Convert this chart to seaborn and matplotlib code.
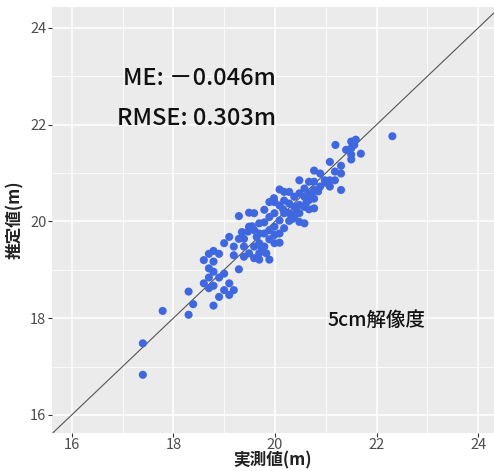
import matplotlib
matplotlib.use("Agg")
import matplotlib.pyplot as plt
import seaborn as sns
import pandas as pd
from matplotlib.ticker import MultipleLocator

# observed (実測値) and estimated (推定値) heights, m
measured = [17.40, 17.40, 17.79, 18.30, 18.30, 18.39, 18.79, 18.60, 18.60, 18.70,
            18.70, 18.70, 18.70, 18.79, 18.79, 18.79, 18.79, 18.90, 18.90, 18.90,
            19.00, 19.00, 19.10, 19.10, 19.19, 19.00, 19.10, 19.19, 19.19, 19.29,
            19.29, 19.29, 19.39, 19.39, 19.39, 19.49, 19.49, 19.49, 19.59, 19.59,
            19.59, 19.59, 19.69, 19.69, 19.69, 19.69, 19.69, 19.79, 19.79, 19.79,
            19.79, 19.89, 19.89, 19.89, 19.89, 19.89, 19.99, 19.99, 19.99, 19.99,
            19.99, 20.09, 20.09, 20.09, 20.09, 20.09, 20.18, 20.18, 20.18, 20.18,
            20.28, 20.28, 20.28, 20.28, 20.38, 20.38, 20.38, 20.48, 20.48, 20.48,
            20.48, 20.48, 20.58, 20.58, 20.58, 20.58, 20.67, 20.67, 20.67, 20.67,
            20.77, 20.77, 20.77, 20.77, 20.77, 20.89, 20.89, 20.98, 21.08, 21.08,
            21.08, 21.18, 21.18, 21.19, 21.30, 21.30, 21.30, 21.40, 21.50, 21.50,
            21.50, 21.50, 21.59, 21.69, 22.31, 21.56, 19.47, 19.64, 19.83, 19.74,
            19.98, 20.16, 20.34, 20.62, 20.72, 20.85, 21.00, 19.55, 19.35, 20.42]
estimated = [17.48, 16.83, 18.15, 18.55, 18.07, 18.29, 18.26, 19.20, 18.72, 19.33,
             19.03, 18.84, 18.62, 19.39, 19.17, 18.96, 18.67, 19.33, 18.84, 18.44,
             18.92, 18.58, 18.72, 18.48, 18.58, 19.55, 19.68, 19.48, 19.30, 19.01,
             20.11, 19.64, 19.64, 19.27, 19.48, 20.18, 19.89, 19.34, 20.17, 19.82,
             19.48, 19.24, 19.96, 19.75, 19.55, 19.34, 19.21, 20.24, 19.98, 19.75,
             19.48, 20.40, 20.09, 19.82, 19.63, 19.21, 20.40, 20.17, 19.89, 19.72,
             19.55, 20.66, 20.33, 20.02, 19.75, 19.56, 20.61, 20.43, 20.17, 19.86,
             20.61, 20.37, 20.17, 20.01, 20.51, 20.30, 20.09, 20.85, 20.58, 20.34,
             20.17, 19.99, 20.68, 20.51, 20.30, 19.96, 20.82, 20.58, 20.44, 20.25,
             21.05, 20.82, 20.65, 20.47, 20.27, 20.99, 20.72, 20.85, 21.23, 20.85,
             20.72, 21.03, 20.85, 21.58, 21.15, 20.99, 20.65, 21.48, 21.65, 21.51,
             21.38, 21.28, 21.69, 21.40, 21.76, 21.58, 19.79, 19.68, 19.34, 19.44,
             20.48, 20.25, 20.05, 20.40, 20.55, 20.62, 20.80, 19.90, 19.78, 20.20]

xticks = [16, 18, 20, 22, 24]
yticks = [16, 18, 20, 22, 24]
xlabel = "実測値(m)"
ylabel = "推定値(m)"
me_text = "ME: －0.046m"
rmse_text = "RMSE: 0.303m"
res_text = "5cm解像度"

df = pd.DataFrame({"measured": measured, "estimated": estimated})

sns.set_theme(style="darkgrid", rc={
    "axes.facecolor": "#EBEBEB",
    "grid.color": "white",
    "axes.edgecolor": "#EBEBEB",
})
plt.rcParams["font.family"] = ["Noto Sans CJK JP", "DejaVu Sans"]

fig = plt.figure(figsize=(4.94, 4.71), dpi=100)
ax = fig.add_axes([0.105, 0.081, 0.895, 0.904])

sns.scatterplot(data=df, x="measured", y="estimated", ax=ax,
                color="#3F67E0", s=34, edgecolor="none", linewidth=0, zorder=3)
ax.axline((16, 16), slope=1, color="#555555", lw=0.8, zorder=2)

ax.set_xlim(15.61, 24.31)
ax.set_ylim(15.63, 24.43)
ax.set_xticks(xticks)
ax.set_yticks(yticks)
ax.xaxis.set_minor_locator(MultipleLocator(1))
ax.yaxis.set_minor_locator(MultipleLocator(1))
ax.grid(which="major", color="white", lw=1.1)
ax.grid(which="minor", color="white", lw=0.55)
ax.set_axisbelow(True)
for sp in ax.spines.values():
    sp.set_visible(False)

ax.tick_params(axis="both", which="major", length=3, width=0.8, color="#333333",
               labelsize=10.5, labelcolor="#4D4D4D", pad=1, bottom=True, left=True)
ax.tick_params(axis="both", which="minor", length=0)

ax.set_xlabel(xlabel, fontsize=12, color="#222222", labelpad=-1, fontweight="bold")
ax.set_ylabel(ylabel, fontsize=12, color="#222222", labelpad=4, fontweight="bold")

ax.text(20.02, 22.96, me_text, ha="right", va="center", fontsize=17,
        color="#111111", fontweight="medium")
ax.text(20.02, 22.13, rmse_text, ha="right", va="center", fontsize=17,
        color="#111111", fontweight="medium")
ax.text(21.03, 17.96, res_text, ha="left", va="center", fontsize=14,
        color="#111111", fontweight="medium")

fig.savefig("out.png", dpi=100)
